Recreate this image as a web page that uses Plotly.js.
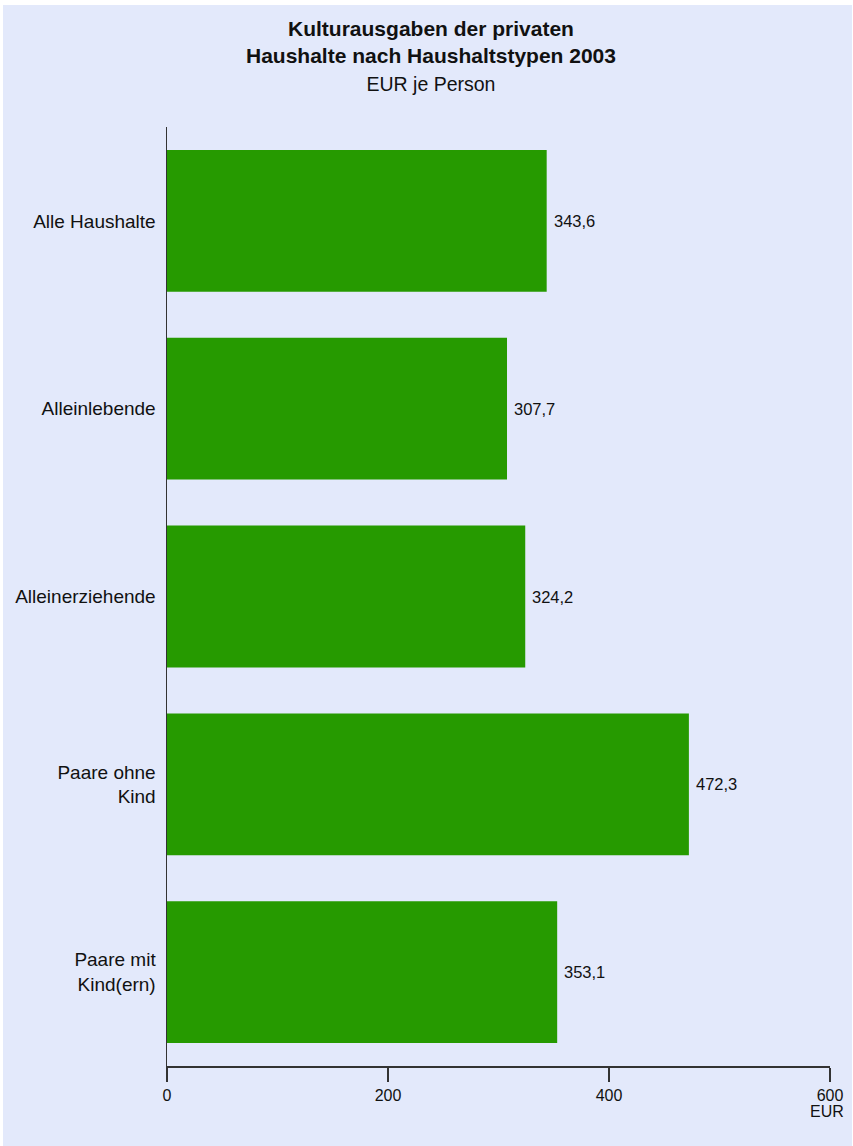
<!DOCTYPE html>
<html>
<head>
<meta charset="utf-8">
<script src="https://cdn.plot.ly/plotly-3.0.1.min.js"></script>
<style>
html,body{margin:0;padding:0;background:#ffffff;}
#chart{position:absolute;left:3px;top:5px;width:849px;height:1141px;}
</style>
</head>
<body>
<div id="chart"></div>
<script>
const categories = ["Alle Haushalte", "Alleinlebende", "Alleinerziehende", "Paare ohne<br>Kind", "Paare mit<br>Kind(ern)"];
const values = [343.6, 307.7, 324.2, 472.3, 353.1];
const valueLabels = ["343,6", "307,7", "324,2", "472,3", "353,1"];
const tickValues = [0, 200, 400, 600];
const tickLabels = ["0", "200", "400", "600"];
const titleLines = ["Kulturausgaben der privaten", "Haushalte nach Haushaltstypen 2003"];
const subtitle = "EUR je Person";
const unitLabel = "EUR";

const FONT = "Liberation Sans, Arial, sans-serif";
const BG = "#e3e9fb";
const TXT = "#111111";

const trace = {
  type: "bar",
  orientation: "h",
  x: values,
  y: categories,
  marker: {color: "#269a00", line: {width: 0}},
  width: 0.755,
  hoverinfo: "none"
};

const TITLE_X = 0.398; // centre of the page in paper units

const annotations = [];
values.forEach((v, i) => {
  annotations.push({
    text: valueLabels[i],
    xref: "x", x: v,
    yref: "y", y: categories[i],
    xanchor: "left", yanchor: "middle",
    xshift: 5,
    showarrow: false,
    font: {family: FONT, size: 16.5, color: TXT}
  });
});
annotations.push({
  text: "<b>" + titleLines.join("<br>") + "</b><br><span style='font-size:19.5px'>" + subtitle + "</span>",
  xref: "paper", x: TITLE_X,
  yref: "paper", y: 1,
  xanchor: "center", yanchor: "middle",
  yshift: 71,
  showarrow: false,
  align: "center",
  font: {family: FONT, size: 21, color: TXT}
});
annotations.push({
  text: unitLabel,
  xref: "x", x: 600,
  yref: "paper", y: 0,
  xanchor: "right", yanchor: "middle",
  xshift: 16,
  yshift: -45,
  showarrow: false,
  font: {family: FONT, size: 16, color: TXT}
});

const layout = {
  width: 849,
  height: 1141,
  paper_bgcolor: BG,
  plot_bgcolor: BG,
  margin: {l: 164, r: 22, t: 122, b: 80},
  showlegend: false,
  font: {family: FONT, color: TXT},
  xaxis: {
    range: [0, 600],
    tickvals: tickValues,
    ticktext: tickLabels,
    ticks: "outside",
    ticklen: 14,
    tickwidth: 1.5,
    tickcolor: "#333",
    showline: true,
    linecolor: "#333",
    linewidth: 1.5,
    showgrid: false,
    zeroline: false,
    tickfont: {family: FONT, size: 16, color: TXT},
    fixedrange: true
  },
  yaxis: {
    type: "category",
    autorange: "reversed",
    showline: true,
    linecolor: "#333",
    linewidth: 1.5,
    ticks: "",
    showgrid: false,
    zeroline: false,
    ticklabelstandoff: 6,
    tickfont: {family: FONT, size: 19, color: TXT},
    fixedrange: true
  },
  annotations: annotations
};

Plotly.newPlot("chart", [trace], layout, {displayModeBar: false, staticPlot: true});
</script>
</body>
</html>
